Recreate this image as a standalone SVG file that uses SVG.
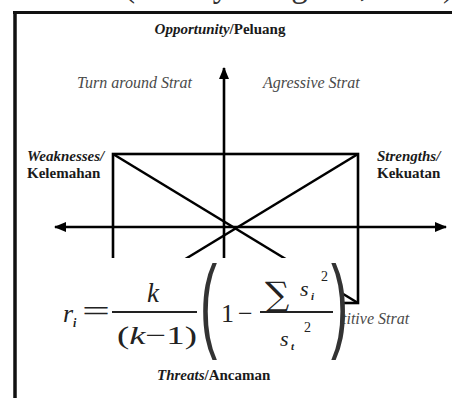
<svg xmlns="http://www.w3.org/2000/svg" width="452" height="398" viewBox="0 0 452 398">
  <style>
    .lbl { font-family: "Liberation Serif", "Times New Roman", serif; font-size: 15px; fill: #1a1a1a; font-weight: bold; }
    .bi { font-style: italic; }
    .strat { font-family: "Liberation Serif", "Times New Roman", serif; font-size: 16px; font-style: italic; fill: #4a4a4a; }
    .ax { stroke: #000; stroke-width: 2.6; fill: none; }
    .fm { font-family: "Liberation Serif", "Times New Roman", serif; fill: #222; }
    .it { font-style: italic; }
    .par { font-family: "Liberation Sans", Arial, sans-serif; font-size: 103px; fill: #333; }
  </style>
  <defs>
    <marker id="arr" viewBox="0 0 12 10" refX="11" refY="5" markerWidth="12" markerHeight="10" markerUnits="userSpaceOnUse" orient="auto">
      <path d="M0,0 L12,5 L0,10 Z" fill="#000"/>
    </marker>
  </defs>
  <rect width="452" height="398" fill="#fff"/>

  <!-- cut-off caption fragment above the frame -->
  <g id="caption-fragment">
    <text x="124" y="-4" font-family="Liberation Serif, Times New Roman, serif" font-size="36" fill="#333" textLength="330" lengthAdjust="spacingAndGlyphs">(Freddy Rangkuti, 2015)</text>
  </g>

  <!-- frame -->
  <g id="frame">
    <line x1="13" y1="12.5" x2="452" y2="12.5" stroke="#111" stroke-width="3"/>
    <line x1="15" y1="11" x2="15" y2="398" stroke="#111" stroke-width="3.5"/>
  </g>

  <g id="connectors">
    <line class="ax" x1="224" y1="300" x2="224" y2="68" marker-end="url(#arr)"/>
    <line class="ax" x1="235" y1="227" x2="55" y2="227" marker-end="url(#arr)"/>
    <line class="ax" x1="235" y1="227" x2="446" y2="227" marker-end="url(#arr)"/>
    <rect class="ax" x="113" y="154" width="245" height="149"/>
    <line class="ax" x1="113" y1="154" x2="358" y2="303"/>
    <line class="ax" x1="358" y1="154" x2="113" y2="303"/>
  </g>

  <g id="opportunity"><text class="lbl" x="220" y="34" text-anchor="middle"><tspan class="bi">Opportunity</tspan>/Peluang</text></g>
  <g id="turnaround"><text class="strat" x="77" y="88">Turn around Strat</text></g>
  <g id="agressive"><text class="strat" x="263" y="88">Agressive Strat</text></g>
  <g id="weaknesses"><text class="lbl" x="27" y="161"><tspan class="bi">Weaknesses/</tspan><tspan x="27" y="178">Kelemahan</tspan></text></g>
  <g id="strengths"><text class="lbl" x="377" y="161"><tspan class="bi">Strengths/</tspan><tspan x="377" y="178">Kekuatan</tspan></text></g>
  <g id="competitive"><text class="strat" x="342" y="324">titive Strat</text></g>

  <!-- formula overlay -->
  <g id="formula">
    <rect x="55" y="258" width="287" height="98" fill="#fff"/>
    <text class="fm it" x="63" y="322" font-size="26">r</text>
    <text class="fm it" x="73" y="327" font-size="12" font-weight="bold">i</text>
    <text class="fm" x="82" y="321" font-size="30" textLength="28" lengthAdjust="spacingAndGlyphs">=</text>
    <line x1="112" y1="312" x2="197" y2="312" stroke="#222" stroke-width="2"/>
    <text class="fm it" x="153" y="302" font-size="27" text-anchor="middle">k</text>
    <text class="fm" x="117" y="344" font-size="26" textLength="80" lengthAdjust="spacingAndGlyphs">(<tspan class="it">k</tspan>−1)</text>
    <text class="par" transform="translate(200,338) scale(0.5,1)">(</text>
    <text class="fm" x="221" y="322" font-size="26">1</text>
    <text class="fm" x="238" y="322" font-size="26">−</text>
    <line x1="260" y1="312" x2="333" y2="312" stroke="#222" stroke-width="2"/>
    <text x="265" y="306" font-family="DejaVu Serif, serif" font-size="34" fill="#222">∑</text>
    <text class="fm it" x="300" y="296" font-size="22">s</text>
    <text class="fm it" x="311" y="300" font-size="11" font-weight="bold">i</text>
    <text class="fm" x="321" y="281" font-size="14">2</text>
    <text class="fm it" x="280" y="346" font-size="22">s</text>
    <text class="fm it" x="291" y="350" font-size="11" font-weight="bold">t</text>
    <text class="fm" x="304" y="332" font-size="14">2</text>
    <text class="par" transform="translate(331,338) scale(0.5,1)">)</text>
  </g>

  <g id="threats"><text class="lbl" x="157" y="380"><tspan class="bi">Threats</tspan>/Ancaman</text></g>
</svg>
